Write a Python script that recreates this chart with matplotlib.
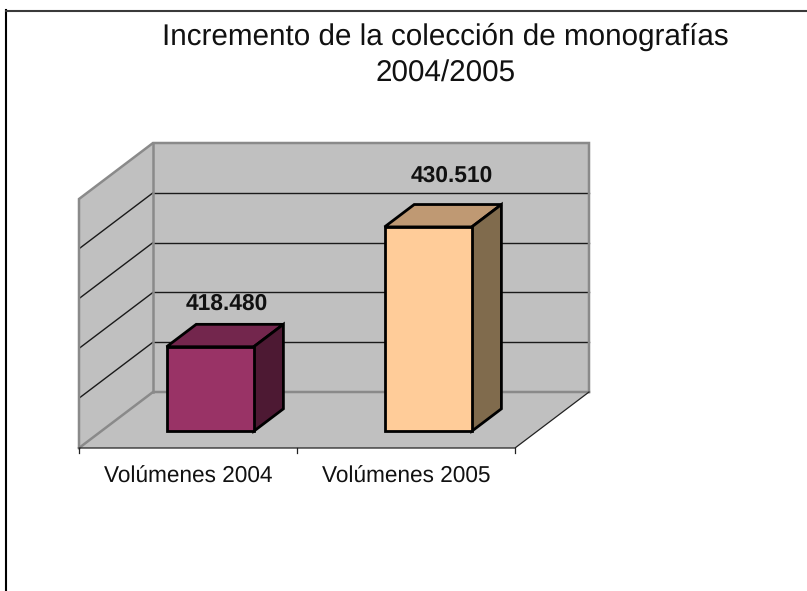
import matplotlib
matplotlib.use('Agg')
import matplotlib.pyplot as plt
from matplotlib.patches import Polygon
from matplotlib.transforms import Affine2D

plt.rcParams['font.family'] = ['Liberation Sans', 'DejaVu Sans']
plt.rcParams['text.hinting'] = 'no_hinting'

categories = ['Volúmenes 2004', 'Volúmenes 2005']
values = [418480, 430510]
value_labels = ['418.480', '430.510']
title = 'Incremento de la colección de monografías\n2004/2005'
face_colors = ['#993366', '#FFCC99']
top_colors = ['#73264D', '#BF9973']
side_colors = ['#4D1933', '#806B4D']
label_offsets = [(2, 32), (9, 40)]

y_min = 410000
y_max = 435000
y_step = 5000

W, H = 807, 591
# front plane of the 3d box, in pixels
left, right, top, bottom = 79, 515, 199, 448
depth_x, depth_y = 74, 56
wall_grey = '#C0C0C0'
edge_grey = '#8A8A8A'

fig = plt.figure(figsize=(W / 100, H / 100), dpi=100, facecolor='white')
ax = fig.add_axes([left / W, 1 - bottom / H, (right - left) / W, (bottom - top) / H])
ax.set_xlim(0, len(categories))
ax.set_ylim(y_min, y_max)
ax.axis('off')
ax.set_zorder(10)


def at_depth(d):
    # shift from the front plane (d=0) to the back wall (d=1)
    return ax.transData + Affine2D().translate(d * depth_x, d * depth_y)


def poly(points, color, edge, lw, z):
    # points are (x, value, depth)
    verts = [at_depth(d).transform((x, y)) for x, y, d in points]
    p = Polygon(verts, closed=True, facecolor=color, edgecolor=edge, linewidth=lw,
                transform=None, clip_on=False, zorder=z, joinstyle='miter')
    fig.add_artist(p)
    return p


n = len(categories)
# floor, side wall, back wall
poly([(0, y_min, 0), (n, y_min, 0), (n, y_min, 1), (0, y_min, 1)], wall_grey, 'none', 0, 1)
poly([(0, y_min, 0), (0, y_max, 0), (0, y_max, 1), (0, y_min, 1)], wall_grey, 'none', 0, 1)
poly([(0, y_min, 1), (n, y_min, 1), (n, y_max, 1), (0, y_max, 1)], wall_grey, 'none', 0, 1)

# gridlines
grid_values = list(range(y_min + y_step, y_max, y_step))
for g in grid_values:
    for pts in ([(0, g, 0), (0, g, 1)], [(0, g, 1), (n, g, 1)]):
        xy = [at_depth(d).transform((x, y)) for x, y, d in pts]
        fig.add_artist(plt.Line2D([xy[0][0], xy[1][0]], [xy[0][1], xy[1][1]], color='#1a1a1a',
                                  lw=1.0, transform=None, zorder=2))

# grey outline of the walls
outline = [
    [(0, y_min, 0), (0, y_max, 0), (0, y_max, 1), (n, y_max, 1), (n, y_min, 1)],
    [(0, y_max, 1), (0, y_min, 1)],
    [(0, y_min, 0), (0, y_min, 1), (n, y_min, 1)],
]
for pts in outline:
    xy = [at_depth(d).transform((x, y)) for x, y, d in pts]
    fig.add_artist(plt.Line2D([q[0] for q in xy], [q[1] for q in xy], color=edge_grey,
                              lw=1.8, transform=None, zorder=3, solid_joinstyle='miter'))

# floor front edges and axis ticks
xy = [at_depth(d).transform((x, y)) for x, y, d in [(0, y_min, 0), (n, y_min, 0), (n, y_min, 1)]]
fig.add_artist(plt.Line2D([q[0] for q in xy], [q[1] for q in xy], color='#222222', lw=0.9,
                          transform=None, zorder=3))
tick_len = 5
for i in range(n + 1):
    p = at_depth(0).transform((i, y_min))
    fig.add_artist(plt.Line2D([p[0], p[0]], [p[1], p[1] - tick_len], color='#222222', lw=0.9,
                              transform=None, zorder=3))

# bars
bar_width = 0.4
d0, d1 = 0.3, 0.7
for i, v in enumerate(values):
    x0 = i + 0.5 - bar_width / 2
    x1 = i + 0.5 + bar_width / 2
    poly([(x0, v, d0), (x1, v, d0), (x1, v, d1), (x0, v, d1)], top_colors[i], 'black', 2, 5)
    poly([(x1, y_min, d0), (x1, v, d0), (x1, v, d1), (x1, y_min, d1)], side_colors[i], 'black', 2, 5)
    poly([(x0, y_min, d0), (x1, y_min, d0), (x1, v, d0), (x0, v, d0)], face_colors[i], 'black', 2, 6)
    ox, oy = label_offsets[i]
    ax.text(i + 0.5, v, value_labels[i], transform=at_depth(0.5) + Affine2D().translate(ox, oy),
            ha='center', va='center', fontsize=16.4, fontweight='bold', color='#111111')
    ax.text(i + 0.5, y_min, categories[i], ha='center', va='top', fontsize=16.3, color='#111111',
            transform=ax.transData + Affine2D().translate(0, -18))

fig.text(445.5 / W, 1 - 55.5 / H, title, ha='center', va='center', fontsize=21.3, color='#111111',
         linespacing=1.41)

# chart area border
fig.add_artist(plt.Line2D([6.5 / W, 6.5 / W], [0, 1 - 10 / H], color='black',
                          lw=1.5, transform=fig.transFigure))
fig.add_artist(plt.Line2D([6 / W, 1], [1 - 11 / H, 1 - 11 / H], color='#3a3a3a',
                          lw=1.5, transform=fig.transFigure))

fig.savefig('out.png', dpi=100, facecolor='white')
